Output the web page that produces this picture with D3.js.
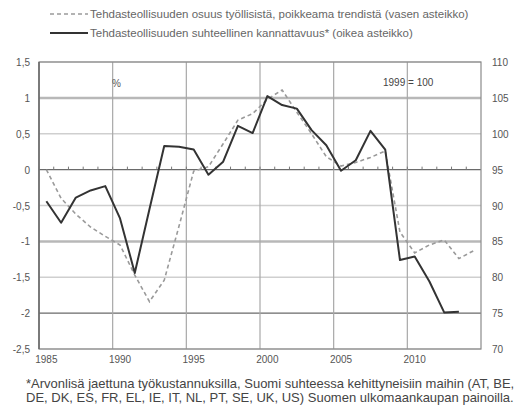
<!DOCTYPE html>
<html>
<head>
<meta charset="utf-8">
<script src="https://cdn.jsdelivr.net/npm/d3@7"></script>
<style>
	body { margin: 0; background: #fff; }
	text { font-family: "Liberation Sans", Arial, sans-serif; }
</style>
</head>
<body>
<svg id="chart"></svg>
<script>
// categories (years) and series
var years = d3.range(1985, 2015);
var labelYears = [1985, 1990, 1995, 2000, 2005, 2010];

// share of manufacturing in employment, deviation from trend (left axis, %)
var employmentShare = [0.0, -0.40, -0.62, -0.80, -0.93, -1.05, -1.47, -1.84, -1.54, -0.79,
	-0.02, 0.04, 0.36, 0.69, 0.78, 0.98, 1.11, 0.80, 0.50, 0.18,
	0.05, 0.10, 0.17, 0.26, -0.87, -1.16, -1.05, -0.98, -1.24, -1.13];

// relative profitability of manufacturing (right axis, 1999 = 100)
var profitability = [90.6, 87.6, 91.1, 92.1, 92.7, 88.2, 80.6, 89.5, 98.3, 98.2,
	97.8, 94.3, 96.1, 101.1, 100.1, 105.25, 104.0, 103.5, 100.5, 98.4,
	94.85, 96.3, 100.4, 97.8, 82.4, 82.9, 79.4, 75.1, 75.2, null];

var leftTicks = [1.5, 1, 0.5, 0, -0.5, -1, -1.5, -2, -2.5];
var rightTicks = [110, 105, 100, 95, 90, 85, 80, 75, 70];

var legendLabels = [
	"Tehdasteollisuuden osuus työllisistä, poikkeama trendistä (vasen asteikko)",
	"Tehdasteollisuuden suhteellinen kannattavuus* (oikea asteikko)"
];
var footnoteLines = [
	"*Arvonlisä jaettuna työkustannuksilla, Suomi suhteessa kehittyneisiin maihin (AT, BE,",
	"DE, DK, ES, FR, EL, IE, IT, NL, PT, SE, UK, US) Suomen ulkomaankaupan painoilla."
];

var width = 528, height = 409;
var margin = { top: 62, right: 47, bottom: 60, left: 39 };

var svg = d3.select("#chart").attr("width", width).attr("height", height);

var xScale = d3.scaleBand().domain(years).range([margin.left, width - margin.right]);
var yLeft = d3.scaleLinear().domain([-2.5, 1.5]).range([height - margin.bottom, margin.top]);
var yRight = d3.scaleLinear().domain([70, 110]).range([height - margin.bottom, margin.top]);
var cx = function(yr) { return xScale(yr) + xScale.bandwidth() / 2; };

var x0 = margin.left, x1 = width - margin.right;
var grid = svg.append("g").attr("class", "grid");

// horizontal gridlines
leftTicks.forEach(function(t) {
	var strong = (t === 1 || t === -1);
	var dark = (t === 0 || t === -2);
	grid.append("line")
		.attr("x1", x0).attr("x2", x1)
		.attr("y1", yLeft(t)).attr("y2", yLeft(t))
		.attr("stroke", dark ? "#6a6a6a" : (strong ? "#b8b8b8" : "#cfcfcf"))
		.attr("stroke-width", strong ? 2.5 : (dark ? 1.2 : 1.5));
});

// vertical gridlines every five years
[1990, 1995, 2000, 2005, 2010].forEach(function(yr) {
	grid.append("line")
		.attr("x1", xScale(yr)).attr("x2", xScale(yr))
		.attr("y1", margin.top).attr("y2", height - margin.bottom)
		.attr("stroke", "#a8a8a8").attr("stroke-width", 1.2);
});

// frame
svg.append("rect")
	.attr("x", x0).attr("y", margin.top)
	.attr("width", x1 - x0).attr("height", height - margin.bottom - margin.top)
	.attr("fill", "none").attr("stroke", "#8a8a8a").attr("stroke-width", 1.2);
svg.append("line")
	.attr("x1", x0).attr("x2", x0)
	.attr("y1", margin.top).attr("y2", height - margin.bottom)
	.attr("stroke", "#666").attr("stroke-width", 1.5);

// minor ticks on the zero line
years.forEach(function(yr) {
	svg.append("line")
		.attr("x1", xScale(yr)).attr("x2", xScale(yr))
		.attr("y1", yLeft(0)).attr("y2", yLeft(0) - 3)
		.attr("stroke", "#777").attr("stroke-width", 1);
});

// axis labels
var axisFont = 10;
svg.append("g").selectAll("text").data(leftTicks).enter().append("text")
	.attr("x", 30).attr("y", function(d) { return yLeft(d) + 4; })
	.attr("text-anchor", "end").attr("font-size", axisFont).attr("fill", "#555")
	.text(function(d) { return String(d).replace(".", ","); });

svg.append("g").selectAll("text").data(rightTicks).enter().append("text")
	.attr("x", 492).attr("y", function(d) { return yRight(d) + 4; })
	.attr("text-anchor", "start").attr("font-size", axisFont).attr("fill", "#555")
	.text(function(d) { return d; });

svg.append("g").selectAll("text").data(labelYears).enter().append("text")
	.attr("x", function(d) { return cx(d); }).attr("y", height - margin.bottom + 14)
	.attr("text-anchor", "middle").attr("font-size", axisFont).attr("fill", "#555")
	.text(function(d) { return d; });

svg.append("text").attr("x", 112).attr("y", 87).attr("font-size", 10).attr("fill", "#555").text("%");
svg.append("text").attr("x", 383).attr("y", 86).attr("font-size", 10).attr("fill", "#444").text("1999 = 100");

// series
var dashedLine = d3.line()
	.x(function(d, i) { return cx(years[i]); })
	.y(function(d) { return yLeft(d); });
svg.append("path")
	.datum(employmentShare)
	.attr("d", dashedLine)
	.attr("fill", "none").attr("stroke", "#9a9a9a")
	.attr("stroke-width", 1.6).attr("stroke-dasharray", "4,3");

var solidLine = d3.line()
	.defined(function(d) { return d !== null; })
	.x(function(d, i) { return cx(years[i]); })
	.y(function(d) { return yRight(d); });
svg.append("path")
	.datum(profitability)
	.attr("d", solidLine)
	.attr("fill", "none").attr("stroke", "#333")
	.attr("stroke-width", 2).attr("stroke-linejoin", "round");

// legend
var legend = svg.append("g");
legend.append("line").attr("x1", 50).attr("x2", 88).attr("y1", 14).attr("y2", 14)
	.attr("stroke", "#9a9a9a").attr("stroke-width", 1.6).attr("stroke-dasharray", "4,3");
legend.append("line").attr("x1", 50).attr("x2", 88).attr("y1", 33).attr("y2", 33)
	.attr("stroke", "#333").attr("stroke-width", 2);
legend.selectAll("text").data(legendLabels).enter().append("text")
	.attr("x", 90).attr("y", function(d, i) { return 18 + i * 19; })
	.attr("font-size", 11.5).attr("fill", "#666")
	.text(function(d) { return d; });

// footnote
svg.append("g").selectAll("text").data(footnoteLines).enter().append("text")
	.attr("x", 26).attr("y", function(d, i) { return 388 + i * 14; })
	.attr("font-size", 13).attr("fill", "#444")
	.text(function(d) { return d; });
</script>
</body>
</html>
